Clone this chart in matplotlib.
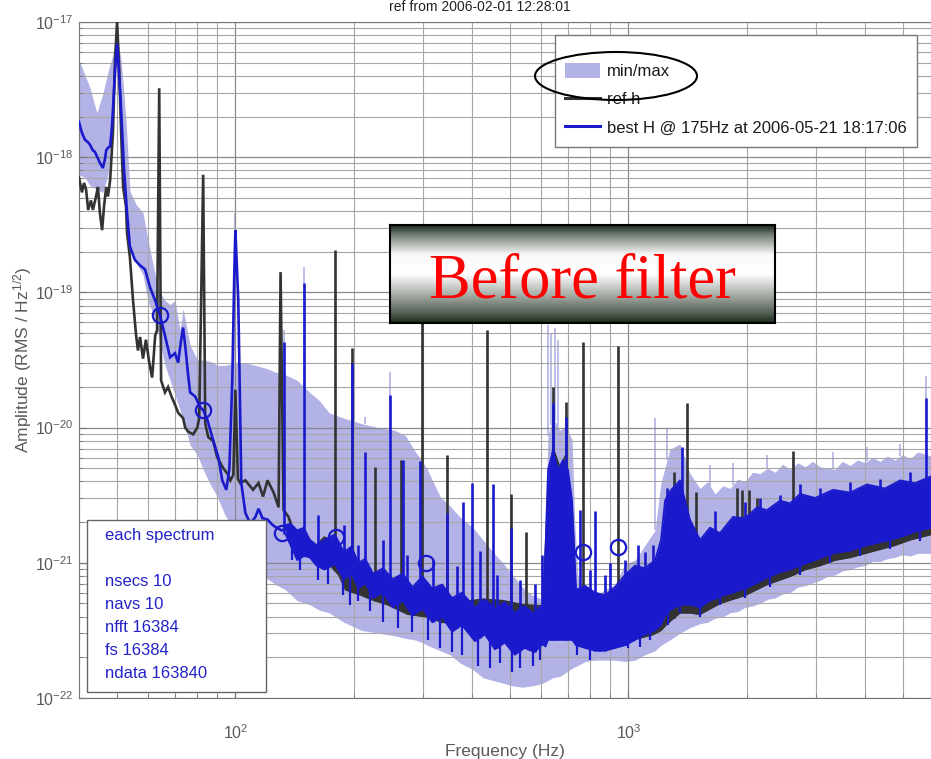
import numpy as np
import matplotlib
matplotlib.use("Agg")
import matplotlib.pyplot as plt
from matplotlib.patches import Rectangle, Ellipse, Patch
from matplotlib.lines import Line2D
from matplotlib.colors import LinearSegmentedColormap
from matplotlib.ticker import FixedLocator, NullFormatter

plt.rcParams['font.family'] = ['Liberation Sans', 'DejaVu Sans']
plt.rcParams['mathtext.fontset'] = 'custom'
plt.rcParams['mathtext.rm'] = 'Liberation Sans'
plt.rcParams['mathtext.it'] = 'Liberation Sans:italic'

# amplitudes below are log10(RMS / Hz^1/2), frequencies in Hz

# min/max envelope of all spectra
band_f = [
    40, 41.4, 42.7, 44.4, 46.0, 47.4, 48.8, 50.0, 51.2, 52.7,
    53.9, 55.9, 58.2, 59.9, 62.5, 64.3, 66.2, 68.2, 70.2, 72.3,
    73.6, 76.7, 80.0, 82.8, 86.3, 89.9, 94.2, 100, 106, 112.5,
    119.3, 126.5, 134.2, 143.6, 154.6, 163.5, 173.2, 188.7, 209.2, 230.6,
    254.5, 271.1, 285.6, 299.1, 307.9, 331.9, 351.6, 372.6, 402.3, 426.4,
    452, 478.9, 507.6, 537.7, 569.9, 606.4, 615, 624.4, 642.9, 670,
    694, 719, 730, 744, 776, 822, 872, 924, 980, 1040,
    1102, 1169, 1210, 1276, 1353, 1434, 1522, 1590, 1661, 1740,
    1814, 1900, 1980, 2070, 2162, 2260, 2361, 2470, 2578, 2700,
    2815, 2940, 3074, 3210, 3355, 3500, 3663, 3830, 4000, 4180,
    4368, 4560, 4768, 4980, 5208, 5450, 5888]
band_hi = [
    -17.28, -17.39, -17.49, -17.67, -17.53, -17.37, -17.24, -17.10, -17.28, -17.73,
    -18.25, -18.35, -18.41, -18.61, -18.87, -19.00, -19.06, -19.09, -19.06, -19.28,
    -19.12, -19.39, -19.50, -19.50, -19.51, -19.54, -19.54, -19.52, -19.52, -19.54,
    -19.56, -19.59, -19.61, -19.65, -19.74, -19.80, -19.89, -19.93, -19.97, -20.00,
    -20.02, -20.06, -20.17, -20.25, -20.31, -20.51, -20.58, -20.66, -20.74, -20.83,
    -20.92, -21.00, -21.09, -21.18, -21.24, -21.27, -20.60, -20.06, -19.93, -20.02,
    -19.99, -20.09, -20.70, -21.11, -21.22, -21.24, -21.20, -21.16, -21.01, -20.98,
    -20.87, -20.76, -20.41, -20.16, -20.12, -20.34, -20.45, -20.40, -20.49, -20.43,
    -20.45, -20.38, -20.40, -20.33, -20.34, -20.30, -20.33, -20.27, -20.31, -20.26,
    -20.29, -20.25, -20.29, -20.30, -20.31, -20.25, -20.28, -20.24, -20.26, -20.22,
    -20.25, -20.21, -20.24, -20.20, -20.23, -20.18, -20.21]
band_lo = [
    -18.13, -18.15, -18.21, -18.24, -18.26, -18.13, -17.73, -17.25, -17.73, -18.39,
    -18.69, -18.78, -18.87, -19.06, -19.20, -19.37, -19.54, -19.65, -19.76, -19.87,
    -19.94, -20.13, -20.20, -20.31, -20.42, -20.51, -20.65, -20.76, -20.87, -21.02,
    -21.11, -21.16, -21.20, -21.28, -21.31, -21.35, -21.37, -21.44, -21.50, -21.52,
    -21.54, -21.56, -21.57, -21.59, -21.61, -21.65, -21.68, -21.74, -21.79, -21.85,
    -21.87, -21.89, -21.91, -21.92, -21.91, -21.89, -21.88, -21.87, -21.85, -21.84,
    -21.81, -21.78, -21.77, -21.76, -21.73, -21.72, -21.72, -21.72, -21.73, -21.72,
    -21.68, -21.65, -21.61, -21.57, -21.52, -21.48, -21.45, -21.44, -21.41, -21.40,
    -21.37, -21.36, -21.33, -21.32, -21.30, -21.27, -21.26, -21.23, -21.22, -21.18,
    -21.17, -21.15, -21.13, -21.10, -21.09, -21.06, -21.05, -21.03, -21.02, -20.99,
    -20.99, -20.97, -20.96, -20.94, -20.95, -20.93, -20.93]
band_spike_f = [100, 132.6, 149.3, 214, 247.2, 624.4, 636, 650, 662, 1169,
                1254, 1613, 1846, 2253, 2624, 3316, 4047, 4911, 5718]
band_spike_top = [-18.41, -19.28, -18.81, -19.92, -19.59, -19.24, -19.30, -19.26, -19.35, -19.93,
                  -20.01, -20.28, -20.26, -20.20, -20.22, -20.18, -20.14, -20.12, -19.62]

# ref h : single trace at low frequency, noisy band above
ref_line_f = [
    40, 40.7, 41.2, 41.7, 42.2, 42.9, 43.4, 44.2, 44.7, 45.2,
    45.8, 46.3, 46.9, 47.4, 48.0, 48.8, 49.4, 50.0, 50.6, 51.2,
    51.8, 52.7, 53.0, 53.9, 54.9, 55.9, 56.5, 57.2, 58.2, 59.2,
    60.3, 61.4, 62.5, 63.2, 64.0, 64.7, 66.2, 67.4, 69.0, 70.2,
    71.5, 73.6, 74.5, 75.8, 78.1, 80.0, 80.9, 82.8, 83.8, 85.3,
    87.8, 89.9, 91.5, 93.1, 95.4, 97.1, 98.8, 100, 101.5, 102.9,
    106, 110.9, 114.5, 117.6, 120.7, 125.1, 128.8, 130.3, 132.6, 136.5,
    143.6]
ref_line_a = [
    -18.15, -18.26, -18.19, -18.24, -18.39, -18.32, -18.39, -18.29, -18.22, -18.41,
    -18.54, -18.37, -18.22, -18.29, -18.17, -17.82, -17.28, -17.00, -17.33, -17.82,
    -18.22, -18.37, -18.56, -18.74, -19.06, -19.32, -19.43, -19.33, -19.49, -19.35,
    -19.51, -19.63, -19.32, -19.28, -17.49, -19.65, -19.74, -19.70, -19.78, -19.83,
    -19.89, -19.93, -20.00, -20.03, -20.05, -20.00, -19.93, -18.13, -19.97, -20.07,
    -20.10, -20.22, -20.26, -20.30, -20.34, -20.39, -20.35, -19.72, -20.38, -20.41,
    -20.39, -20.46, -20.41, -20.51, -20.39, -20.48, -20.59, -18.85, -20.61, -20.66,
    -20.85]
ref_band_f = [
    143.6, 149.3, 154.6, 160.7, 168.3, 173.2, 183.3, 190.9, 209.2, 221.4,
    244.3, 274.3, 307.9, 335.8, 372.6, 426.4, 478.9, 537.7, 606.4, 615,
    624.4, 642.9, 670, 694, 719, 736, 753, 822, 898, 980,
    1058, 1155, 1210, 1254, 1353, 1434, 1522, 1710, 1980, 2253,
    2578, 2815, 3074, 3355, 3663, 4000, 4368, 4768, 5208, 5888]
ref_band_hi = [
    -20.83, -20.76, -20.83, -20.87, -20.81, -20.83, -20.95, -21.10, -21.13, -21.18,
    -21.20, -21.28, -21.27, -21.31, -21.29, -21.27, -21.28, -21.31, -21.32, -20.90,
    -20.50, -20.15, -20.30, -20.20, -20.80, -21.25, -21.31, -21.33, -21.34, -21.31,
    -21.28, -21.25, -21.20, -20.76, -20.68, -20.83, -20.98, -20.92, -20.87, -20.83,
    -20.80, -20.77, -20.74, -20.72, -20.71, -20.68, -20.66, -20.65, -20.63, -20.60]
ref_band_lo = [
    -20.87, -20.90, -20.94, -20.98, -20.98, -21.01, -21.09, -21.20, -21.24, -21.27,
    -21.31, -21.38, -21.40, -21.44, -21.45, -21.43, -21.45, -21.48, -21.50, -21.50,
    -21.50, -21.50, -21.50, -21.50, -21.50, -21.50, -21.50, -21.52, -21.53, -21.55,
    -21.56, -21.53, -21.50, -21.45, -21.37, -21.37, -21.38, -21.30, -21.24, -21.16,
    -21.10, -21.05, -21.02, -20.98, -20.96, -20.93, -20.90, -20.87, -20.83, -20.79]
ref_spike_f = [179.1, 197.5, 226.6, 263.3, 299.1, 345.6, 436.4, 501.7, 550.4, 642.9,
               694, 766, 941, 1306, 1410, 1486, 1890, 1946, 2027, 2124, 2624]
ref_spike_top = [-18.69, -19.41, -20.29, -20.24, -18.98, -20.20, -19.28, -20.49, -20.77, -19.70,
                 -19.81, -19.37, -19.40, -20.33, -19.82, -20.48, -20.45, -20.46, -20.46, -20.52, -20.17]

# best H
best_line_f = [
    40, 40.7, 41.4, 42.2, 42.7, 43.4, 43.9, 44.7, 45.2, 46.0,
    46.6, 46.9, 47.4, 48.0, 48.5, 48.8, 49.4, 50.0, 50.6, 51.2,
    52.1, 53.0, 53.9, 55.5, 57.2, 58.9, 60.6, 62.5, 64.3, 66.2,
    68.2, 70.2, 71.5, 72.8, 73.6, 74.5, 75.8, 76.7, 79.0, 81.4,
    82.8, 84.8, 87.3, 90.5, 92.6, 94.8, 96.5, 98.2, 99.4, 100,
    101.7, 102.9, 103.5, 106, 107.9, 109.2, 112.5, 114.5, 117.2, 120.7,
    124.3, 127.3, 131.1, 134.2]
best_line_a = [
    -17.74, -17.82, -17.87, -17.89, -17.91, -17.95, -17.96, -18.01, -18.04, -18.08,
    -18.01, -17.95, -17.93, -17.92, -17.78, -17.65, -17.36, -17.16, -17.39, -17.65,
    -18.10, -18.41, -18.66, -18.76, -18.80, -18.83, -18.96, -19.06, -19.17, -19.32,
    -19.48, -19.45, -19.52, -19.35, -19.26, -19.39, -19.61, -19.74, -19.77, -19.85,
    -19.87, -19.94, -20.07, -20.22, -20.39, -20.46, -20.31, -19.65, -18.83, -18.54,
    -19.06, -19.94, -20.41, -20.63, -20.68, -20.71, -20.66, -20.60, -20.67, -20.68,
    -20.72, -20.74, -20.76, -20.75]
best_band_f = [
    134.2, 138.1, 143.6, 149.3, 154.6, 160.7, 168.3, 179.1, 188.7, 197.5,
    205.6, 214, 224, 237.4, 251.5, 266.4, 282.3, 299.1, 316.9, 335.8,
    355.8, 376.9, 407, 431.4, 457.3, 484.5, 513.5, 544, 576.5, 606.4,
    615, 624.4, 642.9, 662, 682, 702, 719, 736, 776, 822,
    872, 924, 980, 1040, 1102, 1169, 1210, 1239, 1276, 1353,
    1434, 1522, 1613, 1710, 1846, 1980, 2124, 2253, 2431, 2578,
    2734, 2985, 3316, 3663, 4047, 4496, 4911, 5364, 5888]
best_band_hi = [
    -20.72, -20.71, -20.76, -20.74, -20.83, -20.87, -20.83, -20.79, -20.92, -20.88,
    -21.00, -20.97, -21.08, -21.04, -21.12, -21.08, -21.18, -21.10, -21.19, -21.16,
    -21.26, -21.22, -21.33, -21.27, -21.34, -21.29, -21.37, -21.32, -21.38, -21.30,
    -20.90, -20.31, -20.17, -20.31, -20.24, -20.31, -20.54, -21.20, -21.17, -21.22,
    -21.24, -21.18, -21.09, -21.02, -21.04, -20.98, -20.83, -20.54, -20.47, -20.39,
    -20.68, -20.83, -20.74, -20.78, -20.66, -20.67, -20.59, -20.61, -20.54, -20.56,
    -20.49, -20.52, -20.46, -20.48, -20.42, -20.45, -20.39, -20.41, -20.36]
best_band_lo = [
    -20.79, -20.87, -20.98, -20.95, -20.96, -21.02, -21.05, -21.01, -21.12, -21.08,
    -21.19, -21.15, -21.26, -21.22, -21.33, -21.28, -21.39, -21.34, -21.44, -21.40,
    -21.51, -21.46, -21.58, -21.53, -21.64, -21.59, -21.68, -21.63, -21.66, -21.60,
    -21.62, -21.57, -21.57, -21.57, -21.57, -21.57, -21.57, -21.61, -21.63, -21.65,
    -21.65, -21.63, -21.61, -21.57, -21.53, -21.50, -21.46, -21.39, -21.35, -21.31,
    -21.31, -21.33, -21.28, -21.25, -21.22, -21.19, -21.15, -21.11, -21.07, -21.05,
    -21.02, -20.98, -20.93, -20.91, -20.87, -20.84, -20.81, -20.77, -20.74]
best_spike_f = [132.6, 149.3, 197.5, 214, 247.2, 266.4, 295.6, 345.6, 379.1, 400,
                419.1, 452, 501.7, 602.9, 642.9, 694, 753, 822, 898, 1058,
                1155, 1254, 1369, 1661, 1980, 2162, 2431, 2734, 3074, 3663,
                4368, 5208, 5718,
                162, 189, 205.6, 237, 274, 318, 366, 464, 530, 577,
                799, 872, 980, 1102]
best_spike_top = [-19.37, -18.93, -19.52, -20.18, -19.76, -20.24, -20.25, -20.63, -20.55, -20.41,
                  -20.91, -20.42, -20.74, -20.94, -19.82, -19.92, -20.61, -20.62, -21.00, -20.87,
                  -20.87, -20.45, -20.14, -20.62, -20.55, -20.52, -20.50, -20.42, -20.45, -20.40,
                  -20.38, -20.33, -19.78,
                  -20.65, -20.72, -20.87, -20.83, -20.94, -20.98, -21.02, -21.09, -21.13, -21.16,
                  -21.05, -21.09, -20.98, -20.92]
# downward excursions of best H below its noise band
best_dip_f = [139, 146, 162, 172, 188, 196, 205, 220, 237, 259,
              281, 309, 332, 356, 377, 414, 444, 471, 506, 530,
              572, 596, 740, 799, 847, 908, 998, 1071, 1135, 1261,
              1353, 1522, 1710, 1980, 2293, 2734, 3258, 3884, 4632, 5520]
best_dip_bottom = [-20.98, -21.05, -21.13, -21.16, -21.24, -21.31, -21.28, -21.36, -21.44, -21.48,
                   -21.51, -21.57, -21.63, -21.66, -21.68, -21.76, -21.78, -21.74, -21.81, -21.78,
                   -21.76, -21.72, -21.68, -21.72, -21.66, -21.64, -21.63, -21.62, -21.57, -21.46,
                   -21.37, -21.40, -21.31, -21.26, -21.18, -21.09, -21.00, -20.95, -20.90, -20.84]

# marked points on best H
circ_f = [64.3, 82.8, 131.4, 180.3, 305.6, 766, 941]
circ_a = [-19.17, -19.87, -20.78, -20.81, -21.00, -20.92, -20.88]

x_ticks = [100, 1000]
y_ticks = [1e-22, 1e-21, 1e-20, 1e-19, 1e-18, 1e-17]
info_lines = ["each spectrum", "", "nsecs 10", "navs 10", "nfft 16384", "fs 16384", "ndata 163840"]

BAND = '#b2b2e6'
REF = '#333333'
BLUE = '#1a1acc'
GRAY = '#5a5a5a'


def lin(v):
    return 10.0 ** np.asarray(v, dtype=float)


def edge_at(sf, f, edge):
    return lin(np.interp(np.log10(sf), np.log10(f), edge))


def minor_ticks(lo_dec, hi_dec):
    return [m * 10.0 ** d for d in range(lo_dec, hi_dec) for m in range(2, 10)]


W, H = 931, 759
fig = plt.figure(figsize=(W / 100, H / 100), dpi=100, facecolor='white')
ax = fig.add_axes([79 / W, 1 - 698 / H, (931 - 79) / W, (698 - 22) / H])
ax.set_xscale('log')
ax.set_yscale('log')
ax.set_xlim(40, 5888)
ax.set_ylim(1e-22, 1e-17)

# min/max band
ax.fill_between(band_f, lin(band_lo), lin(band_hi), color=BAND, lw=0, zorder=1)
ax.vlines(band_spike_f, edge_at(band_spike_f, band_f, band_hi), lin(band_spike_top),
          color=BAND, lw=1.2, zorder=1)

# ref h
ax.plot(ref_line_f, lin(ref_line_a), color=REF, lw=1.9, zorder=3, solid_joinstyle='miter')
ax.fill_between(ref_band_f, lin(ref_band_lo), lin(ref_band_hi), color=REF, lw=0, zorder=3)
ax.plot(ref_band_f, lin(ref_band_hi), color=REF, lw=1.2, zorder=3)
ax.plot(ref_band_f, lin(ref_band_lo), color=REF, lw=1.2, zorder=3)
ax.vlines(ref_spike_f, edge_at(ref_spike_f, ref_band_f, ref_band_lo), lin(ref_spike_top),
          color=REF, lw=1.9, zorder=3)

# best H
ax.plot(best_line_f, lin(best_line_a), color=BLUE, lw=1.9, zorder=4, solid_joinstyle='miter')
ax.fill_between(best_band_f, lin(best_band_lo), lin(best_band_hi), color=BLUE, lw=0, zorder=4)
ax.plot(best_band_f, lin(best_band_hi), color=BLUE, lw=1.2, zorder=4)
ax.plot(best_band_f, lin(best_band_lo), color=BLUE, lw=1.2, zorder=4)
ax.vlines(best_spike_f, edge_at(best_spike_f, best_band_f, best_band_lo), lin(best_spike_top),
          color=BLUE, lw=1.9, zorder=4)
ax.vlines(best_dip_f, lin(best_dip_bottom), edge_at(best_dip_f, best_band_f, best_band_hi),
          color=BLUE, lw=1.6, zorder=4)
ax.plot(circ_f, lin(circ_a), 'o', mfc='none', mec=BLUE, ms=11, mew=1.6, zorder=5)

# axes styling (matlab-like)
ax.xaxis.set_major_locator(FixedLocator(x_ticks))
ax.xaxis.set_minor_locator(FixedLocator([t for t in minor_ticks(1, 4) if 40 <= t <= 5888]))
ax.yaxis.set_major_locator(FixedLocator(y_ticks))
ax.yaxis.set_minor_locator(FixedLocator(minor_ticks(-22, -17)))
ax.xaxis.set_minor_formatter(NullFormatter())
ax.yaxis.set_minor_formatter(NullFormatter())
ax.grid(True, which='major', color='#8a8a8a', lw=0.9, zorder=2)
ax.grid(True, which='minor', color='#a6a6a6', lw=0.8, zorder=2)
ax.tick_params(which='both', direction='in', colors='#777777', labelcolor=GRAY, labelsize=11.5)
ax.tick_params(which='major', length=5)
ax.tick_params(which='minor', length=3)
ax.tick_params(axis='x', pad=18)
ax.tick_params(axis='y', pad=4)
for s in ax.spines.values():
    s.set_color('#777777')
ax.set_xlabel('Frequency (Hz)', color=GRAY, fontsize=12.5, labelpad=2)
ax.set_ylabel('Amplitude (RMS / Hz$^{1/2}$)', color=GRAY, fontsize=12.5, labelpad=1)

fig.text(480 / W, 1 - 11 / H, 'ref from 2006-02-01 12:28:01', ha='center', va='baseline',
         fontsize=10, color='#222222')

# legend with its own frame
ax.add_patch(Rectangle((555 / W, 1 - 147 / H), (917 - 555) / W, (147 - 35) / H,
                       transform=fig.transFigure, fc='white', ec='#777777', lw=1,
                       zorder=10, clip_on=False))
handles = [Patch(facecolor=BAND, edgecolor='none'),
           Line2D([], [], color=REF, lw=2.2),
           Line2D([], [], color=BLUE, lw=2.2)]
labels = ['min/max', 'ref h', 'best H @ 175Hz at 2006-05-21 18:17:06']
leg = ax.legend(handles, labels, loc='upper left', bbox_to_anchor=(565 / W, 1 - 63 / H),
                bbox_transform=fig.transFigure, frameon=False, fontsize=12,
                handlelength=2.1, handleheight=1.0, handletextpad=0.4,
                labelspacing=0.72, borderpad=0, borderaxespad=0)
leg.set_zorder(11)
for t in leg.get_texts():
    t.set_color('#1a1a1a')
ax.add_patch(Ellipse((616 / W, 1 - 76 / H), 162 / W, 48 / H, transform=fig.transFigure,
                     fill=False, ec='black', lw=1.5, zorder=12, clip_on=False))

# settings box
ax.add_patch(Rectangle((87 / W, 1 - 692 / H), (266 - 87) / W, (692 - 520) / H,
                       transform=fig.transFigure, fc='white', ec='#666666', lw=1,
                       zorder=10, clip_on=False))
ax.text(105 / W, 1 - 528 / H, '\n'.join(info_lines), transform=fig.transFigure,
        ha='left', va='top', fontsize=12, color='#2222c8', linespacing=1.67, zorder=11)

# "Before filter" banner
bax = fig.add_axes([390 / W, 1 - 323 / H, (775 - 390) / W, (323 - 225) / H])
rows = np.linspace(0, 1, 256)
shade = np.interp(rows, [0, 0.1, 0.3, 0.5, 0.72, 0.9, 1], [0.0, 0.4, 0.97, 1.0, 0.6, 0.25, 0.0])
cmap = LinearSegmentedColormap.from_list('banner', ['#1b2b1b', '#ffffff'])
bax.imshow(shade[:, None], aspect='auto', cmap=cmap, vmin=0, vmax=1, extent=[0, 1, 0, 1])
bax.set_xticks([])
bax.set_yticks([])
for s in bax.spines.values():
    s.set_color('black')
    s.set_linewidth(1.5)
bax.text(0.5, 0.41, 'Before filter', ha='center', va='center', color='#ff0000',
         fontsize=45, family='Liberation Serif', transform=bax.transAxes)

fig.savefig('out.png', dpi=100, facecolor='white')
